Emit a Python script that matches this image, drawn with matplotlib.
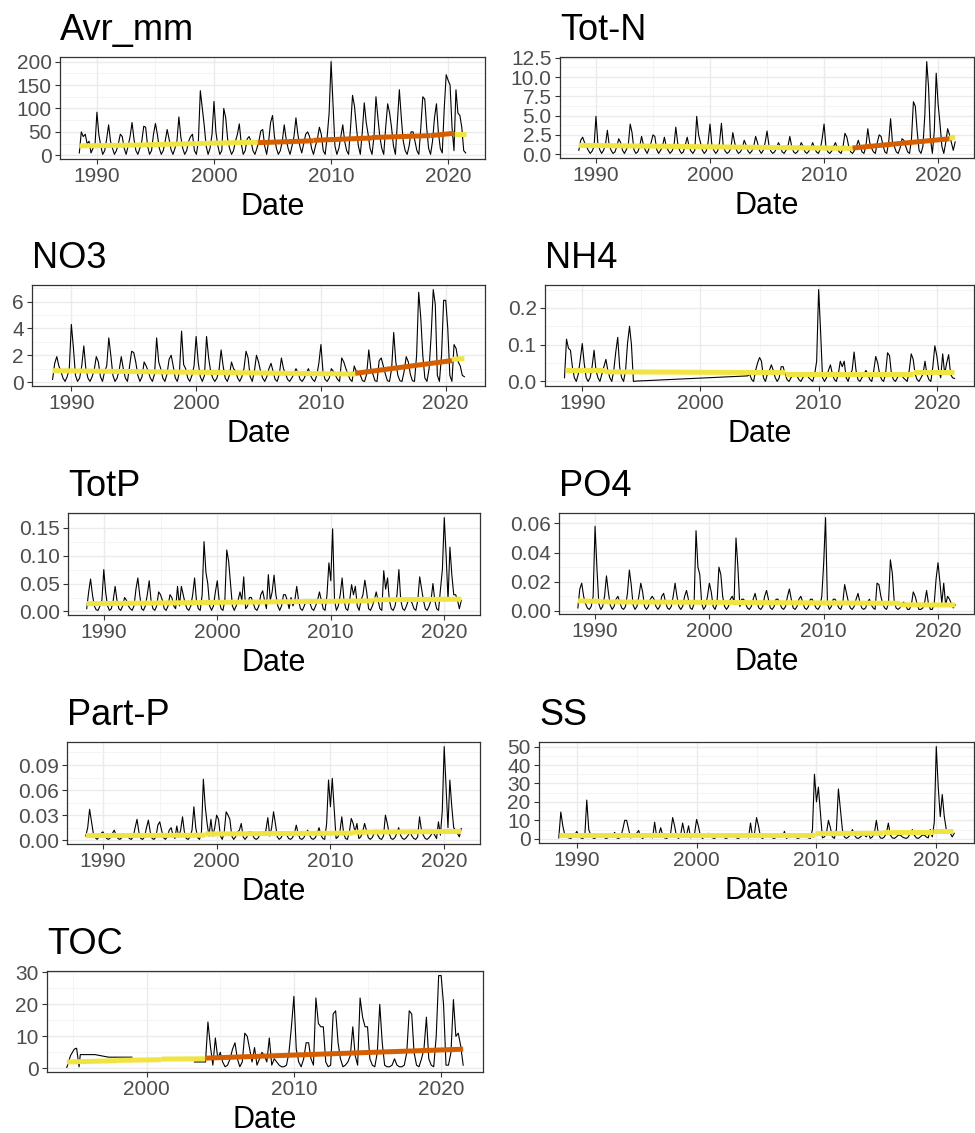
import numpy as np
import pandas as pd
import matplotlib
matplotlib.use("Agg")
import matplotlib.pyplot as plt
import matplotlib.dates as mdates
from matplotlib.ticker import FixedLocator, FormatStrFormatter

plt.rcParams['font.family'] = ['Liberation Sans', 'DejaVu Sans']

# ---- data: bimonthly values (Jan, Mar, May, Jul, Sep, Nov) ----
avr_mm_start = "1988-07-01"
avr_mm = [
    5, 50, 40,
    45, 25, 30, 5, 15, 20,
    92, 45, 20, 2, 10, 35,
    65, 30, 15, 2, 10, 25,
    45, 40, 15, 2, 20, 40,
    70, 35, 10, 2, 15, 30,
    62, 60, 20, 2, 10, 45,
    68, 45, 15, 2, 10, 30,
    55, 35, 12, 2, 15, 30,
    82, 40, 15, 2, 10, 30,
    40, 45, 10, 2, 30, 138,
    100, 65, 20, 2, 15, 45,
    115, 50, 20, 2, 10, 100,
    80, 35, 15, 2, 10, 30,
    45, 67, 25, 2, 10, 35,
    40, 30, 10, 2, 15, 30,
    52, 55, 20, 2, 30, 70,
    85, 40, 15, 2, 10, 30,
    65, 35, 15, 2, 20, 40,
    80, 45, 20, 5, 25, 45,
    50, 40, 15, 2, 20, 35,
    60, 45, 10, 2, 40, 90,
    200, 112, 20, 2, 15, 40,
    65, 30, 10, 2, 60, 128,
    105, 60, 20, 2, 50, 112,
    70, 45, 15, 2, 40, 125,
    80, 40, 15, 2, 60, 110,
    90, 60, 20, 2, 70, 140,
    80, 30, 10, 2, 20, 50,
    50, 30, 10, 2, 60, 125,
    120, 60, 15, 2, 30, 80,
    110, 50, 15, 5, 100, 172,
    160, 150, 60, 10, 140, 90,
    85, 60, 10, 5,
]

totn_start = "1988-07-01"
totn = [
    0.5, 1.8, 2.2,
    1.5, 1.0, 0.5, 0.1, 0.4, 1.0,
    4.9, 1.5, 0.6, 0.1, 0.5, 1.2,
    3.1, 1.2, 0.5, 0.1, 0.3, 1.0,
    2.0, 1.5, 0.5, 0.1, 0.6, 1.2,
    3.9, 2.8, 0.6, 0.1, 0.3, 1.0,
    2.3, 1.2, 0.5, 0.1, 0.8, 1.5,
    2.5, 2.3, 0.6, 0.1, 0.5, 1.0,
    2.2, 1.0, 0.5, 0.1, 0.4, 1.0,
    3.5, 1.5, 0.5, 0.1, 0.3, 1.2,
    2.2, 1.0, 0.4, 0.1, 0.5, 4.9,
    2.5, 1.5, 0.5, 0.1, 0.4, 1.5,
    3.9, 1.2, 0.5, 0.1, 0.4, 1.5,
    4.0, 1.0, 0.4, 0.1, 0.3, 0.8,
    2.8, 1.5, 0.5, 0.1, 0.3, 0.8,
    1.8, 1.2, 0.4, 0.1, 0.4, 1.0,
    2.3, 1.5, 0.5, 0.1, 0.5, 1.5,
    3.0, 1.2, 0.4, 0.1, 0.3, 0.8,
    1.5, 1.0, 0.3, 0.1, 0.5, 1.0,
    2.3, 1.0, 0.3, 0.1, 0.3, 0.8,
    1.5, 1.0, 0.3, 0.1, 0.4, 0.8,
    1.5, 0.8, 0.3, 0.1, 0.6, 2.0,
    3.9, 1.0, 0.3, 0.1, 0.4, 1.0,
    1.5, 0.8, 0.3, 0.1, 1.0, 2.7,
    2.2, 1.0, 0.3, 0.1, 0.5, 1.0,
    1.8, 1.0, 0.3, 0.1, 1.0, 3.3,
    1.5, 0.8, 0.3, 0.1, 1.5, 2.5,
    2.3, 1.2, 0.3, 0.1, 1.5, 4.6,
    1.5, 1.0, 0.3, 0.1, 0.8, 2.0,
    1.8, 1.0, 0.3, 0.1, 2.0, 6.8,
    6.2, 3.0, 0.5, 0.1, 1.0, 5.0,
    12.0, 8.7, 2.0, 0.1, 3.0, 10.5,
    6.5, 4.0, 1.0, 0.1, 1.5, 3.3,
    2.5, 1.5, 0.5, 1.6,
]

no3_start = "1988-07-01"
no3 = [
    0.2, 1.4, 1.9,
    1.2, 0.8, 0.3, 0.05, 0.4, 1.0,
    4.3, 2.6, 0.5, 0.05, 0.3, 1.2,
    2.7, 1.0, 0.3, 0.05, 0.4, 0.9,
    1.9, 1.5, 0.4, 0.05, 0.8, 1.2,
    3.3, 2.0, 0.5, 0.05, 0.3, 0.9,
    1.9, 1.0, 0.3, 0.05, 1.2, 2.3,
    2.2, 1.5, 0.5, 0.05, 0.4, 1.5,
    1.2, 0.8, 0.3, 0.05, 0.6, 3.3,
    1.5, 1.0, 0.3, 0.05, 0.6, 1.7,
    2.0, 1.2, 0.3, 0.05, 0.8, 3.8,
    1.3, 1.0, 0.3, 0.05, 0.5, 1.2,
    3.4, 1.5, 0.4, 0.05, 0.5, 3.4,
    1.8, 0.8, 0.3, 0.05, 0.3, 0.9,
    2.4, 1.2, 0.3, 0.05, 0.5, 1.5,
    1.0, 0.8, 0.3, 0.05, 0.4, 1.0,
    2.3, 1.8, 0.4, 0.05, 0.8, 2.0,
    1.5, 0.8, 0.3, 0.05, 0.4, 1.0,
    1.4, 0.8, 0.2, 0.05, 0.6, 1.8,
    1.0, 0.6, 0.2, 0.05, 0.3, 0.6,
    1.0, 0.7, 0.2, 0.05, 0.3, 0.7,
    1.0, 0.5, 0.2, 0.05, 0.5, 1.4,
    2.8, 0.8, 0.2, 0.05, 0.3, 1.0,
    0.8, 0.5, 0.2, 0.05, 1.8, 1.5,
    1.0, 0.6, 0.2, 0.05, 1.2, 0.8,
    0.8, 0.5, 0.1, 0.05, 0.6, 2.4,
    1.0, 0.6, 0.1, 0.05, 1.6, 1.8,
    1.2, 0.6, 0.1, 0.05, 1.0, 3.7,
    1.5, 0.5, 0.1, 0.05, 0.8, 1.9,
    1.5, 0.6, 0.1, 0.05, 2.0, 6.7,
    4.8, 2.0, 0.3, 0.05, 1.0, 3.5,
    6.9, 5.8, 0.5, 0.05, 2.0, 6.1,
    6.1, 4.0, 0.5, 0.05, 2.8, 2.5,
    1.5, 1.2, 0.5, 0.4,
]

nh4_a_start = "1988-07-01"
nh4_a = [
    0.01, 0.115, 0.09,
    0.085, 0.04, 0.01, 0.0, 0.02, 0.06,
    0.103, 0.05, 0.01, 0.0, 0.01, 0.04,
    0.085, 0.03, 0.01, 0.0, 0.02, 0.04,
    0.06, 0.03, 0.01, 0.0, 0.03, 0.08,
    0.12, 0.04, 0.01, 0.0, 0.03, 0.105,
    0.15, 0.10, 0.0,
]
nh4_gap_dates = ["1994-08-01", "1995-05-01", "2004-01-01"]
nh4_gap = [0.001, 0.002, 0.015]
nh4_b_start = "2004-03-01"
nh4_b = [
    0.02, 0.005, 0.0, 0.03, 0.05,
    0.065, 0.055, 0.01, 0.0, 0.02, 0.03,
    0.045, 0.03, 0.01, 0.0, 0.01, 0.04,
    0.04, 0.02, 0.005, 0.0, 0.01, 0.02,
    0.02, 0.015, 0.005, 0.0, 0.01, 0.02,
    0.02, 0.01, 0.005, 0.0, 0.02, 0.055,
    0.25, 0.14, 0.01, 0.0, 0.01, 0.03,
    0.045, 0.02, 0.005, 0.0, 0.02, 0.055,
    0.04, 0.055, 0.01, 0.0, 0.02, 0.03,
    0.08, 0.03, 0.005, 0.0, 0.01, 0.02,
    0.03, 0.02, 0.005, 0.0, 0.03, 0.068,
    0.05, 0.02, 0.005, 0.0, 0.02, 0.078,
    0.07, 0.02, 0.005, 0.0, 0.01, 0.02,
    0.02, 0.01, 0.005, 0.0, 0.03, 0.075,
    0.06, 0.02, 0.005, 0.0, 0.01, 0.02,
    0.055, 0.02, 0.005, 0.0, 0.04, 0.097,
    0.07, 0.03, 0.01, 0.075, 0.02, 0.05,
    0.073, 0.02, 0.01, 0.008,
]

totp_start = "1988-07-01"
totp = [
    0.005, 0.035, 0.058,
    0.03, 0.01, 0.003, 0.002, 0.01, 0.02,
    0.075, 0.035, 0.01, 0.002, 0.005, 0.02,
    0.045, 0.02, 0.005, 0.002, 0.01, 0.025,
    0.02, 0.01, 0.005, 0.002, 0.01, 0.04,
    0.06, 0.03, 0.005, 0.002, 0.01, 0.03,
    0.055, 0.02, 0.005, 0.002, 0.01, 0.035,
    0.03, 0.02, 0.005, 0.002, 0.01, 0.03,
    0.025, 0.01, 0.005, 0.045, 0.01, 0.045,
    0.03, 0.015, 0.005, 0.002, 0.01, 0.03,
    0.06, 0.02, 0.005, 0.002, 0.03, 0.125,
    0.07, 0.05, 0.01, 0.002, 0.01, 0.035,
    0.055, 0.02, 0.005, 0.002, 0.02, 0.11,
    0.09, 0.05, 0.01, 0.002, 0.01, 0.02,
    0.035, 0.02, 0.062, 0.005, 0.01, 0.025,
    0.025, 0.015, 0.005, 0.002, 0.01, 0.03,
    0.037, 0.02, 0.005, 0.066, 0.02, 0.035,
    0.065, 0.03, 0.01, 0.002, 0.01, 0.03,
    0.03, 0.02, 0.005, 0.025, 0.01, 0.02,
    0.045, 0.02, 0.005, 0.002, 0.01, 0.02,
    0.02, 0.015, 0.005, 0.002, 0.01, 0.02,
    0.035, 0.02, 0.005, 0.002, 0.03, 0.087,
    0.055, 0.148, 0.02, 0.002, 0.01, 0.03,
    0.06, 0.02, 0.005, 0.002, 0.02, 0.048,
    0.03, 0.045, 0.01, 0.002, 0.02, 0.03,
    0.056, 0.035, 0.005, 0.002, 0.01, 0.02,
    0.035, 0.02, 0.005, 0.002, 0.073, 0.04,
    0.06, 0.02, 0.005, 0.002, 0.01, 0.03,
    0.075, 0.02, 0.005, 0.002, 0.01, 0.02,
    0.02, 0.015, 0.005, 0.002, 0.02, 0.062,
    0.04, 0.02, 0.005, 0.002, 0.01, 0.02,
    0.05, 0.02, 0.005, 0.002, 0.04, 0.075,
    0.168, 0.10, 0.02, 0.115, 0.065, 0.03,
    0.03, 0.02, 0.005, 0.02,
]

po4_start = "1988-07-01"
po4 = [
    0.002, 0.015, 0.019,
    0.01, 0.005, 0.002, 0.001, 0.003, 0.01,
    0.058, 0.03, 0.005, 0.001, 0.003, 0.01,
    0.024, 0.013, 0.004, 0.001, 0.003, 0.008,
    0.01, 0.006, 0.002, 0.001, 0.003, 0.012,
    0.028, 0.018, 0.004, 0.001, 0.003, 0.01,
    0.019, 0.013, 0.003, 0.001, 0.003, 0.008,
    0.01, 0.008, 0.003, 0.001, 0.003, 0.01,
    0.012, 0.006, 0.002, 0.001, 0.003, 0.01,
    0.019, 0.01, 0.003, 0.001, 0.003, 0.01,
    0.014, 0.008, 0.002, 0.001, 0.005, 0.055,
    0.03, 0.025, 0.005, 0.001, 0.003, 0.01,
    0.019, 0.013, 0.003, 0.001, 0.005, 0.03,
    0.025, 0.01, 0.003, 0.001, 0.003, 0.008,
    0.01, 0.006, 0.05, 0.03, 0.003, 0.008,
    0.008, 0.005, 0.002, 0.001, 0.003, 0.008,
    0.012, 0.006, 0.002, 0.001, 0.003, 0.01,
    0.014, 0.008, 0.002, 0.001, 0.003, 0.008,
    0.008, 0.005, 0.002, 0.001, 0.003, 0.01,
    0.015, 0.008, 0.002, 0.001, 0.003, 0.008,
    0.01, 0.006, 0.002, 0.001, 0.003, 0.008,
    0.008, 0.005, 0.002, 0.001, 0.003, 0.01,
    0.033, 0.064, 0.005, 0.001, 0.003, 0.008,
    0.008, 0.005, 0.002, 0.001, 0.005, 0.018,
    0.012, 0.006, 0.002, 0.001, 0.003, 0.008,
    0.012, 0.006, 0.002, 0.001, 0.002, 0.006,
    0.008, 0.004, 0.002, 0.001, 0.019, 0.018,
    0.01, 0.005, 0.002, 0.001, 0.005, 0.035,
    0.026, 0.007, 0.002, 0.001, 0.002, 0.005,
    0.006, 0.004, 0.001, 0.001, 0.004, 0.013,
    0.01, 0.005, 0.001, 0.001, 0.002, 0.006,
    0.014, 0.005, 0.001, 0.001, 0.005, 0.022,
    0.033, 0.02, 0.005, 0.019, 0.004, 0.01,
    0.008, 0.005, 0.002, 0.004,
]

partp_start = "1988-07-01"
partp = [
    0.005, 0.015, 0.037,
    0.022, 0.008, 0.003, 0.001, 0.004, 0.008,
    0.01, 0.006, 0.002, 0.001, 0.003, 0.008,
    0.012, 0.006, 0.002, 0.001, 0.003, 0.006,
    0.008, 0.005, 0.002, 0.001, 0.004, 0.015,
    0.025, 0.01, 0.002, 0.001, 0.004, 0.015,
    0.024, 0.01, 0.002, 0.001, 0.004, 0.018,
    0.022, 0.012, 0.003, 0.001, 0.004, 0.012,
    0.015, 0.006, 0.002, 0.017, 0.004, 0.012,
    0.028, 0.01, 0.002, 0.001, 0.004, 0.012,
    0.04, 0.015, 0.003, 0.001, 0.01, 0.073,
    0.04, 0.02, 0.005, 0.025, 0.005, 0.015,
    0.03, 0.025, 0.005, 0.001, 0.01, 0.034,
    0.03, 0.025, 0.005, 0.001, 0.004, 0.01,
    0.012, 0.02, 0.004, 0.001, 0.004, 0.01,
    0.01, 0.006, 0.002, 0.001, 0.003, 0.008,
    0.01, 0.006, 0.012, 0.027, 0.005, 0.015,
    0.034, 0.02, 0.004, 0.001, 0.003, 0.008,
    0.01, 0.006, 0.002, 0.001, 0.003, 0.008,
    0.018, 0.008, 0.002, 0.001, 0.003, 0.008,
    0.012, 0.006, 0.002, 0.001, 0.003, 0.008,
    0.015, 0.006, 0.002, 0.001, 0.02, 0.072,
    0.04, 0.074, 0.037, 0.002, 0.004, 0.01,
    0.028, 0.008, 0.002, 0.001, 0.01, 0.026,
    0.02, 0.01, 0.02, 0.002, 0.004, 0.01,
    0.02, 0.012, 0.003, 0.001, 0.003, 0.008,
    0.012, 0.006, 0.002, 0.001, 0.005, 0.03,
    0.02, 0.008, 0.002, 0.001, 0.003, 0.008,
    0.015, 0.006, 0.002, 0.001, 0.003, 0.006,
    0.01, 0.005, 0.002, 0.001, 0.004, 0.028,
    0.012, 0.006, 0.002, 0.001, 0.003, 0.006,
    0.01, 0.006, 0.002, 0.022, 0.006, 0.035,
    0.112, 0.065, 0.015, 0.072, 0.04, 0.015,
    0.012, 0.008, 0.004, 0.014,
]

ss_start = "1988-07-01"
ss = [
    0.5, 14.5, 7,
    2, 1, 0.5, 0.2, 1, 2,
    4, 2, 0.5, 0.2, 1, 21,
    5, 2, 0.5, 0.2, 1, 2,
    2, 1, 0.5, 0.2, 1, 2,
    2, 3.5, 0.5, 0.2, 1, 5,
    10, 10, 5, 0.5, 1, 2,
    3, 4.5, 1, 0.2, 1, 2,
    2, 1, 0.5, 9, 1, 2,
    6, 2, 0.5, 0.2, 1, 3,
    11.5, 7, 1, 0.2, 2, 8.5,
    3, 2, 7, 0.5, 1, 3,
    10.5, 6.5, 1, 0.2, 1, 2,
    3, 1, 0.5, 0.2, 1, 2,
    2, 1, 0.5, 0.2, 1, 2,
    2, 1, 0.5, 0.2, 1, 2,
    2, 1, 0.5, 8.5, 1, 3,
    11.5, 7, 1, 0.2, 1, 2,
    2, 1, 0.5, 0.2, 1, 2,
    2, 1, 4, 0.2, 1, 2,
    2, 1, 0.5, 0.2, 1, 2,
    2, 1, 0.5, 0.2, 5, 35,
    20, 28, 14, 0.5, 1, 3,
    10, 6, 1, 0.2, 5, 27,
    16, 5, 1, 0.2, 1, 2,
    5, 2, 0.5, 0.2, 1, 2,
    2, 1, 3, 0.2, 1, 3,
    10, 3, 0.5, 0.2, 1, 3,
    8.5, 2, 0.5, 0.2, 1, 2,
    2, 1, 0.5, 0.2, 1, 3,
    5, 2, 0.5, 0.2, 1, 2,
    2, 1, 0.5, 5, 1, 9,
    50, 28, 12, 24, 12, 5,
    5, 3, 1, 3,
]

toc_early_dates = ["1994-08-01", "1994-11-01", "1995-02-01", "1995-04-01", "1995-06-01",
                   "1995-07-01", "1996-07-01", "1997-06-01", "1999-01-01",
                   "2001-01-01", "2003-04-01", "2004-01-01"]
toc_early = [0.3, 4.0, 6.0, 6.3, 0.5, 4.3, 4.3, 3.5, 3.5, np.nan, 2.0, 2.0]
toc_start = "2004-03-01"
toc = [
    14.5, 7, 1, 9.5, 3,
    5, 2, 0.5, 1, 3, 6,
    8, 3, 0.5, 2, 11, 10,
    6, 2, 6.5, 1, 3, 5,
    4, 2, 9.5, 1, 3, 2,
    1, 0.5, 0.5, 1, 5, 13,
    22.5, 6, 2, 0.5, 3, 8,
    8, 3, 1, 22, 14, 13,
    13, 2, 0.5, 1, 17, 18,
    8, 3, 0.5, 1, 2, 4,
    13, 4, 1, 22, 16, 13,
    13, 3, 1, 0.5, 5, 20,
    8, 1, 0.5, 0.5, 1, 3,
    1, 0.5, 0.5, 1, 5, 18,
    17, 5, 1, 0.5, 3, 6,
    16, 3, 1, 0.5, 10, 29,
    29, 20, 1, 1, 5, 21.5,
    10, 11, 7, 1,
]

# ---- trend segments: start, end, start value, end value, significant? ----
trend_avr = [("1988-07-01", "1993-07-01", 20, 22, 0), ("1993-07-01", "1998-07-01", 22, 25, 0),
             ("1998-07-01", "2003-10-01", 25, 28, 0), ("2003-10-01", "2008-07-01", 27, 31, 1),
             ("2008-07-01", "2013-07-01", 32, 37, 1), ("2013-07-01", "2018-07-01", 38, 42, 1),
             ("2018-07-01", "2020-07-01", 42, 47, 1), ("2020-07-01", "2021-07-01", 46, 46, 0)]
trend_totn = [("1988-07-01", "2012-07-01", 1.15, 0.75, 0), ("2012-07-01", "2021-01-01", 0.8, 2.0, 1),
              ("2021-01-01", "2021-07-01", 2.1, 2.2, 0)]
trend_no3 = [("1988-07-01", "2012-10-01", 0.85, 0.6, 0), ("2012-10-01", "2020-07-01", 0.65, 1.6, 1),
             ("2020-07-01", "2021-07-01", 1.7, 1.75, 0)]
trend_nh4 = [("1988-07-01", "1991-12-01", 0.030, 0.030, 0), ("1991-12-01", "2007-03-01", 0.026, 0.024, 0),
             ("2007-03-01", "2018-01-01", 0.021, 0.021, 0), ("2018-01-01", "2021-07-01", 0.025, 0.025, 0)]
trend_totp = [("1988-07-01", "2013-10-01", 0.014, 0.019, 0), ("2013-10-01", "2021-07-01", 0.021, 0.022, 0)]
trend_po4 = [("1988-07-01", "1990-07-01", 0.0068, 0.0066, 0), ("1990-07-01", "2016-09-01", 0.0062, 0.0052, 0),
             ("2016-09-01", "2021-07-01", 0.0042, 0.0040, 0)]
trend_partp = [("1988-07-01", "1999-01-01", 0.0055, 0.006, 0), ("1999-01-01", "2012-01-01", 0.0075, 0.0085, 0),
               ("2012-01-01", "2021-07-01", 0.0095, 0.0105, 0)]
trend_ss = [("1988-07-01", "2009-12-01", 2.0, 2.0, 0), ("2009-12-01", "2015-08-01", 2.8, 3.0, 0),
            ("2015-08-01", "2019-10-01", 3.5, 3.5, 0), ("2019-10-01", "2021-06-01", 4.0, 4.0, 0)]
trend_toc = [("1994-08-01", "1998-01-01", 2.0, 2.4, 0), ("1998-01-01", "2001-01-01", 2.5, 2.7, 0),
             ("2001-01-01", "2004-01-01", 2.9, 3.0, 0), ("2004-01-01", "2021-07-01", 3.2, 6.0, 1)]


def bimonthly(start, vals):
    return pd.Series(vals, index=pd.date_range(start, periods=len(vals), freq="2MS"), dtype=float)


def points(dates, vals):
    return pd.Series(vals, index=pd.to_datetime(dates), dtype=float)


series = {
    "Avr_mm": bimonthly(avr_mm_start, avr_mm),
    "Tot-N": bimonthly(totn_start, totn),
    "NO3": bimonthly(no3_start, no3),
    "NH4": pd.concat([bimonthly(nh4_a_start, nh4_a), points(nh4_gap_dates, nh4_gap),
                      bimonthly(nh4_b_start, nh4_b)]),
    "TotP": bimonthly(totp_start, totp),
    "PO4": bimonthly(po4_start, po4),
    "Part-P": bimonthly(partp_start, partp),
    "SS": bimonthly(ss_start, ss),
    "TOC": pd.concat([points(toc_early_dates, toc_early), bimonthly(toc_start, toc)]),
}
trends = {"Avr_mm": trend_avr, "Tot-N": trend_totn, "NO3": trend_no3, "NH4": trend_nh4,
          "TotP": trend_totp, "PO4": trend_po4, "Part-P": trend_partp, "SS": trend_ss,
          "TOC": trend_toc}

# panel layout in pixels: left, top, right, bottom ; y ticks ; label format
W, H = 975, 1133
layout = {
    "Avr_mm": ((60, 57, 485, 159), [0, 50, 100, 150, 200], "%d"),
    "Tot-N": ((560, 57, 974, 158), [0, 2.5, 5, 7.5, 10, 12.5], "%.1f"),
    "NO3": ((32, 285, 485, 386), [0, 2, 4, 6], "%d"),
    "NH4": ((545, 285, 974, 386), [0, 0.1, 0.2], "%.1f"),
    "TotP": ((68, 513, 480, 615), [0, 0.05, 0.10, 0.15], "%.2f"),
    "PO4": ((559, 513, 974, 614), [0, 0.02, 0.04, 0.06], "%.2f"),
    "Part-P": ((67, 742, 480, 844), [0, 0.03, 0.06, 0.09], "%.2f"),
    "SS": ((539, 742, 974, 843), [0, 10, 20, 30, 40, 50], "%d"),
    "TOC": ((47, 971, 483, 1072), [0, 10, 20, 30], "%d"),
}

colors = {0: "#F0E442", 1: "#D55E00"}

fig = plt.figure(figsize=(W / 100, H / 100), dpi=100)

for name, s in series.items():
    (l, t, r, b), yt, fmt = layout[name]
    ax = fig.add_axes([l / W, 1 - b / H, (r - l) / W, (b - t) / H])
    ax.plot(s.index, s.values, color="black", lw=0.8, zorder=3)
    for d0, d1, y0, y1, sig in trends[name]:
        ax.plot(pd.to_datetime([d0, d1]), [y0, y1], color=colors[sig], lw=3.6,
                solid_capstyle="butt", zorder=4)

    ax.xaxis.set_major_locator(mdates.YearLocator(10))
    ax.xaxis.set_minor_locator(mdates.YearLocator(5))
    ax.xaxis.set_major_formatter(mdates.DateFormatter("%Y"))
    ax.yaxis.set_major_locator(FixedLocator(yt))
    step = yt[1] - yt[0]
    ax.yaxis.set_minor_locator(FixedLocator([v + step / 2 for v in yt[:-1]] + [yt[0] - step / 2, yt[-1] + step / 2]))
    ax.yaxis.set_major_formatter(FormatStrFormatter(fmt))

    ax.grid(which="major", color="#EBEBEB", lw=1.0, zorder=0)
    ax.grid(which="minor", color="#F2F2F2", lw=0.6, zorder=0)
    ax.set_axisbelow(True)
    for sp in ax.spines.values():
        sp.set_color("#333333")
        sp.set_linewidth(0.9)
    ax.tick_params(which="major", direction="out", length=3.5, width=0.8, color="#333333",
                   labelcolor="#4D4D4D", labelsize=15, pad=2.5)
    ax.tick_params(which="minor", length=0)

    ax.set_title(name, loc="left", fontsize=26, pad=12)
    ax.set_xlabel("Date", fontsize=22, labelpad=4)

fig.savefig("out.png", dpi=100)
